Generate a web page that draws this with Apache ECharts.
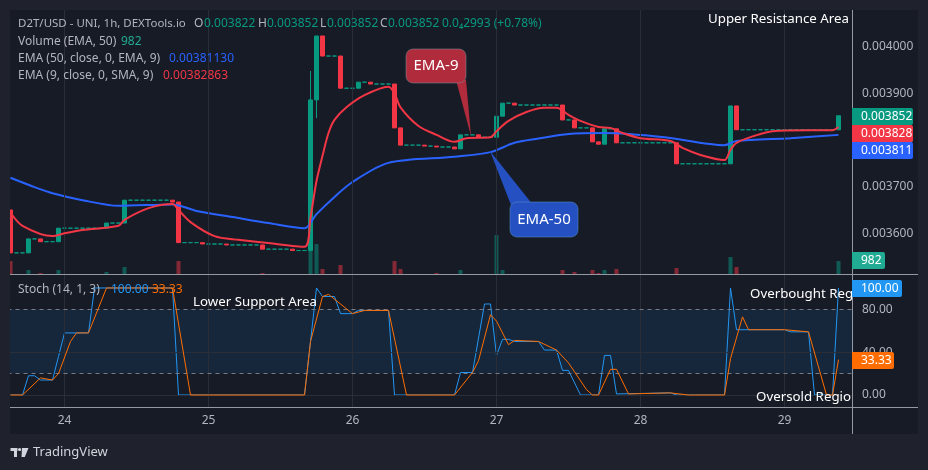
<!DOCTYPE html>
<html>
<head>
<meta charset="utf-8">
<title>D2T/USD - UNI, 1h</title>
<script src="https://cdn.jsdelivr.net/npm/echarts@6/dist/echarts.min.js"></script>
<style>
  html, body { margin: 0; padding: 0; background: #1f222d; }
  #main { width: 928px; height: 470px; }
</style>
</head>
<body>
<div id="main"></div>
<script>
// 1小时K线，第一根是23日15:00
const firstOpen = 0.003650;
const closes = [
  // 23日 15:00-23:00
  0.003558, 0.003558, 0.003558, 0.003588, 0.003588, 0.003582, 0.003582, 0.003582, 0.003611,
  // 24日
  0.003611, 0.003611, 0.003611, 0.003611, 0.003611, 0.003611, 0.003611, 0.003622, 0.003622, 0.003622, 0.003671, 0.003671,
  0.003671, 0.003671, 0.003671, 0.003671, 0.003671, 0.003671, 0.003667, 0.003580, 0.003580, 0.003580, 0.003580, 0.003577,
  // 25日
  0.003577, 0.003577, 0.003577, 0.003575, 0.003575, 0.003575, 0.003575, 0.003575, 0.003575, 0.003566, 0.003566, 0.003566,
  0.003566, 0.003566, 0.003563, 0.003563, 0.003563, 0.003886, 0.004023, 0.003980, 0.003980, 0.003980, 0.003911, 0.003911,
  // 26日
  0.003911, 0.003924, 0.003924, 0.003920, 0.003920, 0.003920, 0.003920, 0.003826, 0.003789, 0.003789, 0.003789, 0.003789,
  0.003787, 0.003787, 0.003785, 0.003785, 0.003785, 0.003781, 0.003811, 0.003811, 0.003811, 0.003806, 0.003806, 0.003806,
  // 27日
  0.003851, 0.003879, 0.003879, 0.003875, 0.003875, 0.003875, 0.003875, 0.003875, 0.003875, 0.003875, 0.003875, 0.003843,
  0.003843, 0.003826, 0.003826, 0.003826, 0.003796, 0.003791, 0.003824, 0.003824, 0.003794, 0.003794, 0.003794, 0.003794,
  // 28日
  0.003794, 0.003794, 0.003794, 0.003794, 0.003794, 0.003794, 0.003749, 0.003749, 0.003749, 0.003749, 0.003749, 0.003749,
  0.003749, 0.003749, 0.003749, 0.003873, 0.003822, 0.003822, 0.003822, 0.003822, 0.003822, 0.003822, 0.003822, 0.003822,
  // 29日
  0.003822, 0.003822, 0.003822, 0.003822, 0.003822, 0.003822, 0.003822, 0.003822, 0.003822, 0.003852
];
// 影线 (key = 距24日00:00的小时数)
const wicks = { 41: { high: 0.003948 }, 42: { low: 0.003847 }, 72: { high: 0.003969 } };

const volumes = [
  980, 0, 0, 350, 0, 140, 0, 0, 350,
  0, 0, 0, 0, 0, 0, 0, 210, 0, 0, 560, 0, 0, 0, 0, 0, 0, 0, 70, 980, 0, 0, 0, 70,
  0, 0, 0, 70, 0, 0, 0, 0, 0, 140, 0, 0, 0, 0, 70, 0, 0, 1700, 2170, 420, 0, 0, 700, 0,
  0, 70, 0, 70, 0, 0, 0, 980, 420, 0, 0, 0, 70, 0, 140, 0, 0, 70, 350, 0, 0, 70, 0, 0,
  2800, 350, 0, 70, 0, 0, 0, 0, 0, 0, 0, 350, 0, 210, 0, 0, 350, 140, 350, 0, 420, 0, 0, 0,
  0, 0, 0, 0, 0, 0, 490, 0, 0, 0, 0, 0, 0, 0, 0, 1260, 560, 0, 0, 0, 0, 0, 0, 0,
  0, 0, 0, 0, 0, 0, 0, 0, 0, 982
];

// [小时, 值]
const ema9 = [
  [-9, 0.003644], [-7, 0.003616], [-2, 0.003594], [0, 0.003600], [3, 0.003607], [9, 0.003616], [10, 0.003629],
  [14, 0.003654], [18, 0.003663], [19, 0.003650], [21, 0.003624], [25, 0.003594], [29, 0.003586], [34, 0.003579],
  [40, 0.003571], [41, 0.003634], [42, 0.003712], [43, 0.003766], [44, 0.003815], [45, 0.003843], [47, 0.003870],
  [50, 0.003896], [54, 0.003914], [55, 0.003900], [56, 0.003870], [59, 0.003830], [62, 0.003811], [65, 0.003796],
  [67, 0.003804], [71, 0.003806], [72, 0.003819], [74, 0.003841], [77, 0.003860], [80, 0.003869], [82, 0.003869],
  [84, 0.003854], [86, 0.003841], [89, 0.003828], [91, 0.003826], [93, 0.003815], [96, 0.003804], [101, 0.003798],
  [103, 0.003783], [106, 0.003768], [110, 0.003757], [111, 0.003779], [112, 0.003794], [115, 0.003809],
  [118, 0.003819], [124, 0.003821], [128, 0.003821], [129, 0.003828]
];
const ema50 = [
  [-9, 0.003719], [-5, 0.003699], [-2, 0.003686], [3, 0.003671], [9, 0.003659], [18, 0.003662], [22, 0.003648],
  [28, 0.003635], [34, 0.003622], [40, 0.003611], [42, 0.003641], [45, 0.003678], [48, 0.003710], [54, 0.003751],
  [65, 0.003764], [71, 0.003774], [75, 0.003794], [79, 0.003803], [84, 0.003813], [90, 0.003815], [100, 0.003806],
  [110, 0.003789], [112, 0.003798], [121, 0.003804], [129, 0.003811]
];
const stochK = [
  [-9, 0], [-7, 0], [-6, 18], [-5, 18], [-4, 14], [-2, 14], [-1, 36], [0, 58], [4, 58], [5, 100], [18, 100], [19, 0],
  [40, 0], [42, 100], [43, 92], [45, 92], [46, 76], [48, 76], [49, 79], [54, 79], [55, 0], [65, 0], [66, 21], [68, 21],
  [70, 85], [71, 85], [72, 37], [73, 52], [74, 52], [75, 50], [79, 50], [80, 42], [82, 42], [83, 23], [84, 23], [86, 0],
  [89, 0], [90, 37], [91, 37], [92, 1], [101, 2], [102, 0], [110, 0], [111, 100], [112, 61], [120, 61], [121, 59],
  [124, 59], [125, 0], [128, 0], [129, 100]
];
const stochD = [
  [-9, 0], [-7, 0], [-4, 16], [-2, 14], [-1, 20], [1, 50], [2, 58], [4, 58], [7, 100], [18, 100], [21, 0], [40, 0],
  [41, 50], [43, 92], [44, 94], [48, 76], [50, 79], [54, 79], [57, 0], [65, 0], [68, 21], [69, 32], [71, 75], [72, 69],
  [74, 47], [75, 51], [79, 50], [82, 42], [84, 30], [87, 5], [88, 0], [89, 0], [91, 24], [92, 24], [94, 1], [101, 2],
  [104, 0], [110, 0], [111, 34], [113, 73], [114, 61], [120, 61], [124, 59], [127, 0], [128, 0], [129, 33]
];
const priceTicks = [0.0036, 0.0037, 0.0038, 0.0039, 0.0040];
const stochTicks = [0, 40, 80];
const days = [24, 25, 26, 27, 28, 29];

// 类目：23日15:00 ~ 29日11:00
const cats = [];
for (let h = -9; h <= 131; h++) {
  const d = 24 + Math.floor(h / 24);
  const hh = ((h % 24) + 24) % 24;
  cats.push(d + ' ' + String(hh).padStart(2, '0') + ':00');
}
const cat = h => cats[h + 9];

const UP = '#089981', DOWN = '#f23645';
const candles = closes.map((c, k) => {
  const o = k === 0 ? firstOpen : closes[k - 1];
  const w = wicks[k - 9] || {};
  return [o, c, w.low != null ? w.low : Math.min(o, c), w.high != null ? w.high : Math.max(o, c)];
});
const volData = volumes.map((v, k) => ({
  value: v,
  itemStyle: { color: candles[k][1] >= candles[k][0] ? 'rgba(8,153,129,0.5)' : 'rgba(242,54,69,0.5)' }
}));
const toXY = arr => arr.map(p => [cat(p[0]), p[1]]);

const GRID = '#2a2e39', TXT = '#b2b5be', FONT = 'Noto Sans';
const dayLines = days.map(d => ({ xAxis: cat((d - 24) * 24) }));

function txt(x, y, text, color, size, extra) {
  return {
    type: 'text', x: x, y: y, z: 60,
    style: Object.assign({ text: text, fill: color, font: (size || 12) + 'px "' + FONT + '"', textVerticalAlign: 'middle' }, extra || {})
  };
}
function tag(y, w, text, color) {
  return [
    { type: 'rect', z: 70, shape: { x: 852, y: y, width: w, height: 17, r: [0, 2, 2, 0] }, style: { fill: color } },
    { type: 'text', z: 71, x: 861, y: y + 8.5, style: { text: text, fill: '#ffffff', font: '12px "' + FONT + '"', textVerticalAlign: 'middle' } }
  ];
}

const myChart = echarts.init(document.getElementById('main'));
const option = {
  backgroundColor: '#1f222d',
  animation: false,
  textStyle: { fontFamily: FONT },
  grid: [
    { left: 7.5, right: 74.5, top: 10, height: 265 },
    { left: 7.5, right: 74.5, top: 275, height: 132 }
  ],
  xAxis: [
    {
      type: 'category', gridIndex: 0, data: cats, boundaryGap: true,
      axisLine: { show: false }, axisTick: { show: false }, axisLabel: { show: false }, splitLine: { show: false }
    },
    {
      type: 'category', gridIndex: 1, data: cats, boundaryGap: true,
      axisLine: { show: false }, axisTick: { show: false }, splitLine: { show: false },
      axisLabel: {
        color: TXT, fontSize: 12, margin: 8,
        interval: (i) => i >= 9 && (i - 9) % 24 === 0,
        formatter: v => v.split(' ')[0]
      }
    }
  ],
  yAxis: [
    {
      type: 'value', gridIndex: 0, position: 'right', min: 0.0035106, max: 0.0040787,
      axisLine: { show: false }, axisTick: { show: false }, splitLine: { show: false },
      axisLabel: { color: TXT, fontSize: 12, margin: 8.5, customValues: priceTicks, formatter: v => v.toFixed(6) }
    },
    { type: 'value', gridIndex: 0, show: false, min: 0, max: 18600, splitLine: { show: false } },
    {
      type: 'value', gridIndex: 1, position: 'right', min: -11.2, max: 112.1,
      axisLine: { show: false }, axisTick: { show: false }, splitLine: { show: false },
      axisLabel: { color: TXT, fontSize: 12, margin: 8.5, customValues: stochTicks, formatter: v => v.toFixed(2) }
    }
  ],
  series: [
    {
      // 主图网格线
      type: 'line', xAxisIndex: 0, yAxisIndex: 0, data: [], z: 1, silent: true,
      markLine: {
        silent: true, symbol: ['none', 'none'], label: { show: false },
        lineStyle: { color: GRID, type: 'solid', width: 1 },
        data: priceTicks.map(v => ({ yAxis: v })).concat(dayLines)
      }
    },
    {
      name: 'Volume', type: 'bar', xAxisIndex: 0, yAxisIndex: 1, data: volData,
      barWidth: 4, barMinHeight: 1, z: 2
    },
    {
      name: 'D2T/USD', type: 'candlestick', xAxisIndex: 0, yAxisIndex: 0, data: candles, z: 3,
      barWidth: 4,
      itemStyle: { color: UP, color0: DOWN, borderColor: UP, borderColor0: DOWN, borderColorDoji: UP, borderWidth: 1 },
      markLine: {
        silent: true, symbol: ['none', 'none'], label: { show: false },
        lineStyle: { color: UP, type: 'dotted', width: 1 },
        data: [{ yAxis: closes[closes.length - 1] }]
      }
    },
    {
      name: 'EMA 50', type: 'line', xAxisIndex: 0, yAxisIndex: 0, data: toXY(ema50), z: 4,
      showSymbol: false, smooth: 0.3, lineStyle: { color: '#2962ff', width: 2 }
    },
    {
      name: 'EMA 9', type: 'line', xAxisIndex: 0, yAxisIndex: 0, data: toXY(ema9), z: 5,
      showSymbol: false, smooth: 0.3, lineStyle: { color: '#f23645', width: 2 }
    },
    {
      // Stoch 网格和 20-80 区间
      type: 'line', xAxisIndex: 1, yAxisIndex: 2, data: [], z: 1, silent: true,
      markArea: { silent: true, itemStyle: { color: 'rgba(33,150,243,0.1)' }, data: [[{ yAxis: 20 }, { yAxis: 80 }]] },
      markLine: {
        silent: true, symbol: ['none', 'none'], label: { show: false },
        lineStyle: { color: GRID, type: 'solid', width: 1 },
        data: [{ yAxis: 0 }, { yAxis: 40 }].concat(dayLines).concat([
          { yAxis: 20, lineStyle: { color: '#787b86', type: [4, 4] } },
          { yAxis: 80, lineStyle: { color: '#787b86', type: [4, 4] } }
        ])
      }
    },
    {
      name: '%K', type: 'line', xAxisIndex: 1, yAxisIndex: 2, data: toXY(stochK), z: 4,
      showSymbol: false, lineStyle: { color: '#2196f3', width: 1 }
    },
    {
      name: '%D', type: 'line', xAxisIndex: 1, yAxisIndex: 2, data: toXY(stochD), z: 5,
      showSymbol: false, lineStyle: { color: '#ff6d00', width: 1 }
    }
  ],
  graphic: {
    elements: [
      // 面板背景
      { type: 'rect', z: -10, shape: { x: 10, y: 10, width: 908, height: 424 }, style: { fill: '#171b26' } },
      { type: 'rect', z: 50, shape: { x: 0, y: 0, width: 10, height: 470 }, style: { fill: '#1f222d' } },
      // 分隔线
      { type: 'line', z: 55, shape: { x1: 10, y1: 274.5, x2: 918, y2: 274.5 }, style: { stroke: '#9598a1', lineWidth: 1 } },
      { type: 'line', z: 55, shape: { x1: 10, y1: 407.5, x2: 918, y2: 407.5 }, style: { stroke: '#9598a1', lineWidth: 1 } },
      { type: 'line', z: 55, shape: { x1: 852.5, y1: 10, x2: 852.5, y2: 434 }, style: { stroke: '#9598a1', lineWidth: 1 } },

      // 图例
      txt(18, 24, 'D2T/USD - UNI, 1h, DEXTools.io', TXT, 11.5),
      txt(194, 24, 'O', TXT), txt(204, 24, '0.003822', UP),
      txt(258, 24, 'H', TXT), txt(267, 24, '0.003852', UP),
      txt(320, 24, 'L', TXT), txt(327, 24, '0.003852', UP),
      txt(380, 24, 'C', TXT), txt(388, 24, '0.003852', UP),
      txt(442, 24, '0.0₄2993 (+0.78%)', UP),
      txt(18, 42, 'Volume (EMA, 50)', TXT), txt(121, 42, '982', '#22ab94'),
      txt(18, 59, 'EMA (50, close, 0, EMA, 9)', TXT), txt(169, 59, '0.00381130', '#2962ff'),
      txt(18, 76, 'EMA (9, close, 0, SMA, 9)', TXT), txt(163, 76, '0.00382863', '#f23645'),
      txt(18, 290, 'Stoch (14, 1, 3)', TXT), txt(111, 290, '100.00', '#2196f3'), txt(152, 290, '33.33', '#ff6d00'),

      // 注释
      txt(708, 19, 'Upper Resistance Area', '#ffffff', 13.3, { width: 144, overflow: 'truncate', ellipsis: '' }),
      txt(193, 302, 'Lower Support Area', '#ffffff', 13.3),
      txt(750, 294, 'Overbought Region', '#ffffff', 13.3, { width: 106, overflow: 'truncate', ellipsis: '' }),
      txt(756, 397, 'Oversold Region', '#ffffff', 13.3, { width: 102, overflow: 'truncate', ellipsis: '' }),

      // EMA-9 标注
      { type: 'polygon', z: 58, shape: { points: [[456, 80], [466, 80], [471, 136]] }, style: { fill: '#b02b3b' } },
      { type: 'rect', z: 58, shape: { x: 406, y: 49, width: 60, height: 34, r: 7 }, style: { fill: '#b02b3b', stroke: 'rgba(120,150,160,0.5)', lineWidth: 1 } },
      txt(436, 66, 'EMA-9', '#ffffff', 15, { textAlign: 'center' }),
      // EMA-50 标注
      { type: 'polygon', z: 58, shape: { points: [[490, 151], [511, 205], [533, 205]] }, style: { fill: '#2450c2' } },
      { type: 'rect', z: 58, shape: { x: 510, y: 202, width: 68, height: 35, r: 7 }, style: { fill: '#2450c2', stroke: 'rgba(90,150,200,0.5)', lineWidth: 1 } },
      txt(544, 220, 'EMA-50', '#ffffff', 15, { textAlign: 'center' }),

      // 右侧价格标签
      ...tag(108, 61, '0.003852', UP),
      ...tag(125, 61, '0.003828', DOWN),
      ...tag(142, 61, '0.003811', '#2962ff'),
      ...tag(252, 33, '982', '#22ab94'),
      ...tag(280, 50, '100.00', '#2196f3'),
      ...tag(352, 42, '33.33', '#ff6d00'),

      // TradingView 标志
      { type: 'rect', z: 60, shape: { x: 10.5, y: 448, width: 7, height: 3 }, style: { fill: '#d1d4dc' } },
      { type: 'rect', z: 60, shape: { x: 14, y: 448, width: 3, height: 9 }, style: { fill: '#d1d4dc' } },
      { type: 'circle', z: 60, shape: { cx: 19.6, cy: 449.5, r: 1.6 }, style: { fill: '#d1d4dc' } },
      { type: 'polygon', z: 60, shape: { points: [[22, 448], [28.5, 448], [24.8, 457], [21.5, 457]] }, style: { fill: '#d1d4dc' } },
      txt(33, 452, 'TradingView', '#d1d4dc', 13)
    ]
  }
};

myChart.setOption(option);
</script>
</body>
</html>
